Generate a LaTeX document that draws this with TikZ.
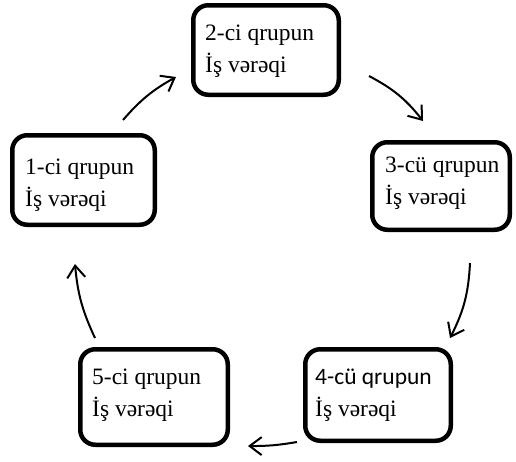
\documentclass[tikz,border=0pt]{standalone}
\usepackage{fontspec}
\setmainfont{Liberation Serif}
\newfontfamily\calib{Carlito}
\usetikzlibrary{arrows.meta}
\tikzset{
  box/.style={draw=black, line width=4.5pt, rounded corners=15pt, inner sep=0pt, fill=white},
  txt/.style={align=left, inner sep=0pt, anchor=west, font=\fontsize{23.5}{32}\selectfont},
  arr/.style={line width=2pt, -{Straight Barb[length=12pt,width=18pt,line width=2pt]}}
}
\begin{document}
\begin{tikzpicture}[x=1pt,y=-1pt]
\useasboundingbox (0,0) rectangle (516,461);
% boxes
\node[box, minimum width=142.5pt, minimum height=89.5pt] (b1) at (83.5,180) {};
\node[box, minimum width=145.5pt, minimum height=89.5pt] (b2) at (266,50) {};
\node[box, minimum width=137.5pt, minimum height=87.5pt] (b3) at (441,186) {};
\node[box, minimum width=145.5pt, minimum height=91.5pt] (b4) at (378,395) {};
\node[box, minimum width=147.5pt, minimum height=95.5pt] (b5) at (154,397) {};
% texts
\node[txt] (t1) at (25,185.5) {1-ci qrupun\\İş vərəqi};
\node[txt] (t2) at (205,51.5) {2-ci qrupun\\İş vərəqi};
\node[txt] (t3) at (385,183.5) {3-cü qrupun\\İş vərəqi};
\node[txt] (t4) at (315,395.5) {{\calib 4-cü qrupun}\\İş vərəqi};
\node[txt] (t5) at (92,395.5) {5-ci qrupun\\İş vərəqi};
% arrow end points
\coordinate (a12s) at (123,120);
\coordinate (a12e) at (176,77);
\coordinate (a23s) at (369,76);
\coordinate (a23e) at (423,121);
\coordinate (a34s) at (470,263);
\coordinate (a34e) at (450,338);
\coordinate (a45s) at (297,442);
\coordinate (a45e) at (248,446);
\coordinate (a51s) at (95,338);
\coordinate (a51e) at (75,264);
\draw[arr] (a12s) to[bend left=10] (a12e);
\draw[arr] (a23s) to[bend left=12] (a23e);
\draw[arr] (a34s) to[bend left=12] (a34e);
\draw[arr] (a45s) to[bend left=5] (a45e);
\draw[arr] (a51s) to[bend left=10] (a51e);
\end{tikzpicture}
\end{document}
